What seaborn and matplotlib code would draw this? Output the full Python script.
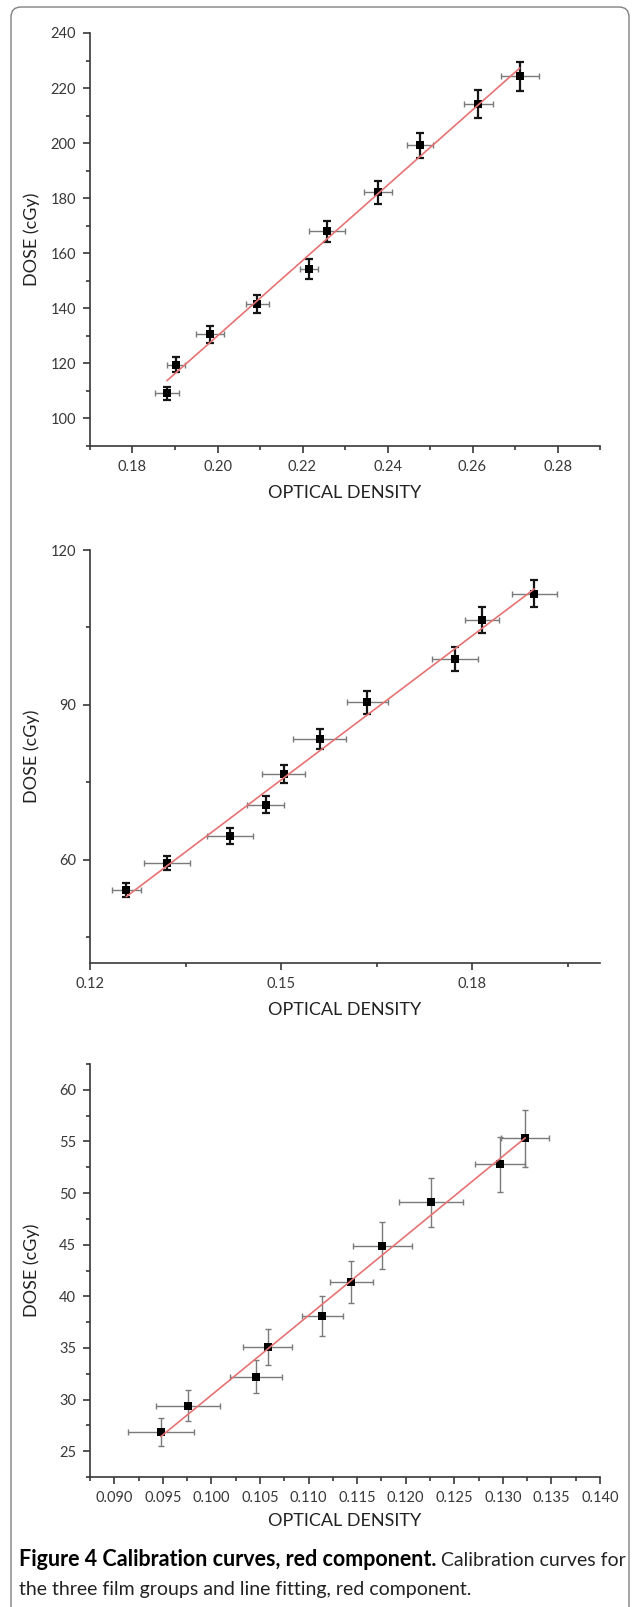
import numpy as np
import pandas as pd
import seaborn as sns
import matplotlib.pyplot as plt
from matplotlib.patches import FancyBboxPatch
from matplotlib.ticker import MultipleLocator, FormatStrFormatter

# film group 1 (top)
od_1 = [0.1881, 0.1902, 0.1982, 0.2094, 0.2215, 0.2258, 0.2377, 0.2476, 0.2614, 0.2711]
dose_1 = [109.2, 119.6, 130.5, 141.6, 154.3, 168.0, 182.2, 199.2, 214.3, 224.3]
od_err_1 = [0.0029, 0.0022, 0.0033, 0.0028, 0.0021, 0.0042, 0.0033, 0.0030, 0.0035, 0.0045]
dose_err_1 = [2.4, 2.7, 3.0, 3.3, 3.6, 3.9, 4.2, 4.6, 5.0, 5.2]

# film group 2 (middle)
od_2 = [0.1257, 0.1321, 0.1420, 0.1476, 0.1504, 0.1560, 0.1635, 0.1772, 0.1815, 0.1897]
dose_2 = [54.1, 59.4, 64.6, 70.7, 76.6, 83.4, 90.5, 98.9, 106.4, 111.5]
od_err_2 = [0.0023, 0.0036, 0.0036, 0.0029, 0.0034, 0.0042, 0.0032, 0.0036, 0.0027, 0.0035]
dose_err_2 = [1.4, 1.4, 1.6, 1.7, 1.8, 2.0, 2.2, 2.4, 2.5, 2.6]

# film group 3 (bottom)
od_3 = [0.0948, 0.0976, 0.1046, 0.1058, 0.1114, 0.1144, 0.1176, 0.1226, 0.1297, 0.1323]
dose_3 = [26.9, 29.4, 32.2, 35.1, 38.1, 41.4, 44.9, 49.1, 52.8, 55.3]
od_err_3 = [0.0034, 0.0033, 0.0027, 0.0025, 0.0021, 0.0022, 0.0030, 0.0033, 0.0026, 0.0025]
dose_err_3 = [1.35, 1.5, 1.6, 1.75, 1.9, 2.05, 2.25, 2.4, 2.65, 2.75]

x_label = "OPTICAL DENSITY"
y_label = "DOSE (cGy)"
caption_bold = "Figure 4 Calibration curves, red component."
caption_rest = " Calibration curves for"
caption_line2 = "the three film groups and line fitting, red component."

sns.set_theme(style="ticks")
plt.rcParams['font.family'] = ['Lato', 'DejaVu Sans']

W, H = 632, 1607
fig = plt.figure(figsize=(W / 100, H / 100), dpi=100)

INK = '#383838'


def draw_panel(ax, od, dose, od_err, dose_err, dark_yerr):
    df = pd.DataFrame({'od': od, 'dose': dose})
    # horizontal error bars, thin grey
    ax.errorbar(df['od'], df['dose'], xerr=od_err, fmt='none', ecolor='#7a7a7a',
                elinewidth=1.0, capsize=2.0, capthick=1.0, zorder=2)
    if dark_yerr:
        ax.errorbar(df['od'], df['dose'], yerr=dose_err, fmt='none', ecolor='#151515',
                    elinewidth=1.6, capsize=2.9, capthick=1.6, zorder=2)
    else:
        ax.errorbar(df['od'], df['dose'], yerr=dose_err, fmt='none', ecolor='#7a7a7a',
                    elinewidth=1.0, capsize=2.3, capthick=1.0, zorder=2)
    sns.scatterplot(data=df, x='od', y='dose', marker='s', s=36, color='black',
                    edgecolor='black', linewidth=0, ax=ax, zorder=3)
    # least squares line
    slope, icpt = np.polyfit(df['od'], df['dose'], 1)
    xs = np.array([df['od'].min(), df['od'].max()])
    fit = pd.DataFrame({'od': xs, 'dose': slope * xs + icpt})
    sns.lineplot(data=fit, x='od', y='dose', color='#e57373', linewidth=1.2, ax=ax, zorder=4)

    sns.despine(ax=ax)
    for s in ['left', 'bottom']:
        ax.spines[s].set_color(INK)
        ax.spines[s].set_linewidth(1.2)
    ax.tick_params(which='major', direction='out', length=5, width=1.2, color=INK,
                   labelcolor=INK, labelsize=10.5, pad=5)
    ax.tick_params(which='minor', direction='out', length=3, width=1.2, color=INK)
    ax.set_xlabel(x_label, fontsize=13, color='#222222', labelpad=8)
    ax.set_ylabel(y_label, fontsize=13, color='#222222')
    ax.yaxis.set_label_coords(-0.098, 0.5)


left, width, height = 90 / W, 510 / W, 413 / H

ax1 = fig.add_axes([left, 1 - 446 / H, width, height])
draw_panel(ax1, od_1, dose_1, od_err_1, dose_err_1, True)
ax1.set_xlim(0.17, 0.29)
ax1.set_ylim(90, 240)
ax1.xaxis.set_major_locator(MultipleLocator(0.02))
ax1.xaxis.set_minor_locator(MultipleLocator(0.01))
ax1.xaxis.set_major_formatter(FormatStrFormatter('%.2f'))
ax1.yaxis.set_minor_locator(MultipleLocator(10))
ax1.set_yticks(np.arange(100, 241, 20))

ax2 = fig.add_axes([left, 1 - 963 / H, width, height])
draw_panel(ax2, od_2, dose_2, od_err_2, dose_err_2, True)
ax2.set_xlim(0.12, 0.20)
ax2.set_ylim(40, 120)
ax2.set_xticks([0.12, 0.15, 0.18])
ax2.set_xticks([0.135, 0.165, 0.195], minor=True)
ax2.xaxis.set_major_formatter(FormatStrFormatter('%.2f'))
ax2.set_yticks([60, 90, 120])
ax2.set_yticks([45, 75, 105], minor=True)

ax3 = fig.add_axes([left, 1 - 1477 / H, width, height])
draw_panel(ax3, od_3, dose_3, od_err_3, dose_err_3, False)
ax3.set_xlim(0.0875, 0.140)
ax3.set_ylim(22.5, 62.5)
ax3.set_xticks(np.round(np.arange(0.090, 0.1401, 0.005), 3))
ax3.set_xticks(np.round(np.arange(0.0875, 0.1401, 0.005), 4), minor=True)
ax3.xaxis.set_major_formatter(FormatStrFormatter('%.3f'))
ax3.set_yticks(np.arange(25, 61, 5))
ax3.set_yticks(np.arange(22.5, 63, 5), minor=True)
ax3.xaxis.labelpad = 6

# page frame with rounded top corners, running off the bottom
frame = FancyBboxPatch((11 / W, -0.05), 618 / W, 1 - 7 / H + 0.05,
                       boxstyle="round,pad=0,rounding_size=0.016",
                       transform=fig.transFigure, fill=False,
                       edgecolor='#808080', linewidth=1.0, clip_on=False,
                       mutation_aspect=W / H)
fig.patches.append(frame)

# caption
fig.canvas.draw()
renderer = fig.canvas.get_renderer()
t1 = fig.text(19 / W, 1 - 1560 / H, caption_bold, fontsize=15.5, fontweight='bold',
              color='black', va='center', ha='left')
bb = t1.get_window_extent(renderer=renderer)
fig.text(bb.x1 / W, 1 - 1560 / H, caption_rest, fontsize=14, color='#222222',
         va='center', ha='left')
fig.text(19 / W, 1 - 1589 / H, caption_line2, fontsize=14, color='#222222',
         va='center', ha='left')

fig.savefig('out.png', dpi=100)
